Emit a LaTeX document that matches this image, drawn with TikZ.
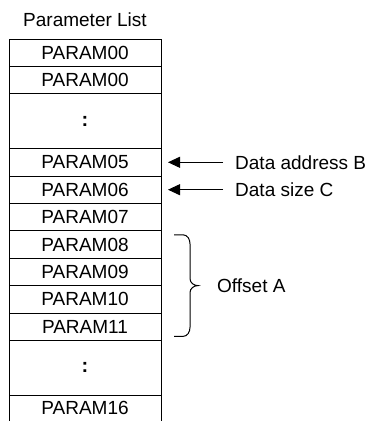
\documentclass[tikz,border=0pt]{standalone}
\usepackage{fontspec}
\setmainfont{Liberation Sans}
\usetikzlibrary{arrows.meta, positioning, calc}

\begin{document}
\begin{tikzpicture}[x=1pt, y=-1pt, font=\fontsize{19}{22}\selectfont,
    cell/.style={draw, line width=1pt, minimum width=152pt, minimum height=27.4pt, inner sep=0pt, outer sep=0pt},
    gap/.style={cell, minimum height=54.8pt, font=\fontsize{20}{22}\selectfont\bfseries},
    ptr/.style={-{Triangle[length=12pt,width=11pt]}, line width=1pt},
    brc/.style={line width=1pt},
    lbl/.style={inner sep=0pt, anchor=west}]
    \useasboundingbox (0,0) rectangle (372,421);
    % the list
    \node[cell, anchor=north west] (r1) at (9,39) {PARAM00};
    \node[cell, below=0pt of r1] (r2) {PARAM00};
    \node[gap, below=0pt of r2] (r3) {:};
    \node[cell, below=0pt of r3] (r5) {PARAM05};
    \node[cell, below=0pt of r5] (r6) {PARAM06};
    \node[cell, below=0pt of r6] (r7) {PARAM07};
    \node[cell, below=0pt of r7] (r8) {PARAM08};
    \node[cell, below=0pt of r8] (r9) {PARAM09};
    \node[cell, below=0pt of r9] (r10) {PARAM10};
    \node[cell, below=0pt of r10] (r11) {PARAM11};
    \node[gap, below=0pt of r11] (r12) {:};
    \node[cell, draw=none, minimum height=25.8pt, below=0pt of r12] (r16) {PARAM16};
    \draw[line width=1pt] (r16.south west) -- (r16.north west);
    \draw[line width=1pt] (r16.south east) -- (r16.north east);
    \node[inner sep=0pt, anchor=base] (title) at ([yshift=12.3pt]r1.north) {Parameter List};
    % pointers
    \node[lbl, right=74pt of r5] (addr) {Data address B};
    \draw[ptr] ([xshift=-12pt]addr.west) -- ([xshift=7pt]r5.east);
    \node[lbl, right=74pt of r6] (size) {Data size C};
    \draw[ptr] ([xshift=-12pt]size.west) -- ([xshift=7pt]r6.east);
    % brace
    \coordinate (bt) at ([xshift=13pt,yshift=-4pt]r8.north east);
    \coordinate (bb) at ([xshift=13pt,yshift=4pt]r11.south east);
    \coordinate (bm) at ($(bt)!0.5!(bb)$);
    \coordinate (btip) at ([xshift=24pt]bm);
    \draw[brc] (bt) -- ++(9,0) to[out=0,in=90] ++(7,9) -- ([shift={(16pt,7pt)}]bm)
        to[out=-90,in=180] (btip) to[out=180,in=90] ([shift={(16pt,-7pt)}]bm)
        -- ([shift={(16pt,9pt)}]bb) to[out=-90,in=0] ([xshift=9pt]bb) -- (bb);
    \node[lbl, right=19pt of btip] (off) {Offset A};
\end{tikzpicture}
\end{document}
